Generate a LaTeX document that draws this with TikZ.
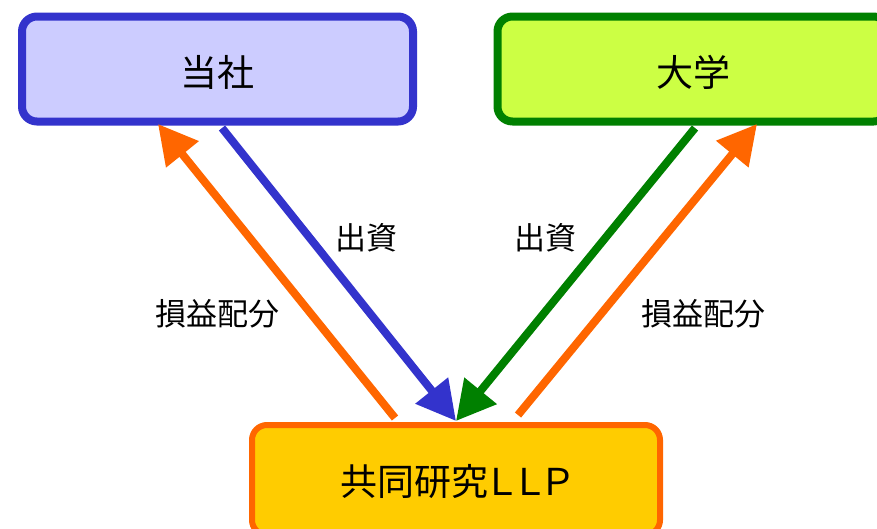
\documentclass[tikz,border=0pt]{standalone}
\usepackage{fontspec}
\newfontfamily\jp{Noto Sans CJK JP}
\usetikzlibrary{arrows.meta}
\definecolor{cblue}{HTML}{3333CC}
\definecolor{cbluefill}{HTML}{CCCCFF}
\definecolor{cgreen}{HTML}{008000}
\definecolor{cgreenfill}{HTML}{CCFF44}
\definecolor{corange}{HTML}{FF6600}
\definecolor{cyellow}{HTML}{FFCC00}
\tikzset{
  boxstyle/.style={draw, rounded corners=15pt, font=\jp\fontsize{37}{40}\selectfont, inner sep=0pt},
  lbl/.style={font=\jp\fontsize{31}{34}\selectfont, inner sep=0pt},
  flow/.style={line width=8pt, -{Triangle[length=39pt,width=40pt]}},
}
\begin{document}
\begin{tikzpicture}[x=1pt,y=-1pt]
\useasboundingbox (0,0) rectangle (877,528);
\clip (0,0) rectangle (877,528);
\node[boxstyle, line width=8pt, draw=cblue, fill=cbluefill, minimum width=391pt, minimum height=105pt] (tosha) at (217.5,69) {};
\node[font=\jp\fontsize{37}{40}\selectfont] (toshat) at (217.5,72) {当社};
\node[boxstyle, line width=8pt, draw=cgreen, fill=cgreenfill, minimum width=391pt, minimum height=105pt] (daigaku) at (693,69) {};
\node[font=\jp\fontsize{37}{40}\selectfont] (daigakut) at (693,72) {大学};
\node[boxstyle, line width=6pt, draw=corange, fill=cyellow, minimum width=408pt, minimum height=110pt] (llp) at (456,480) {};
\node[font=\jp\fontsize{37}{40}\selectfont] (llpt) at (456,481) {共同研究\makebox[0.75em]{Ｌ}\makebox[0.75em]{Ｌ}\makebox[0.75em]{Ｐ}};
\coordinate (b1) at (222,128);
\coordinate (g1) at (695,128);
\coordinate (tip) at (456,421);
\coordinate (o1) at (395,418);
\coordinate (o1t) at (158,124);
\coordinate (o2) at (518,415);
\coordinate (o2t) at (757,124);
\draw[flow, draw=cblue, fill=cblue] (b1) -- (tip);
\draw[flow, draw=cgreen, fill=cgreen] (g1) -- (tip);
\draw[flow, draw=corange, fill=corange] (o1) -- (o1t);
\draw[flow, draw=corange, fill=corange] (o2) -- (o2t);
\node[lbl] (l1) at (366,238) {出資};
\node[lbl] (l2) at (217,314) {損益配分};
\node[lbl] (l3) at (545,238) {出資};
\node[lbl] (l4) at (703,314) {損益配分};
\end{tikzpicture}
\end{document}
